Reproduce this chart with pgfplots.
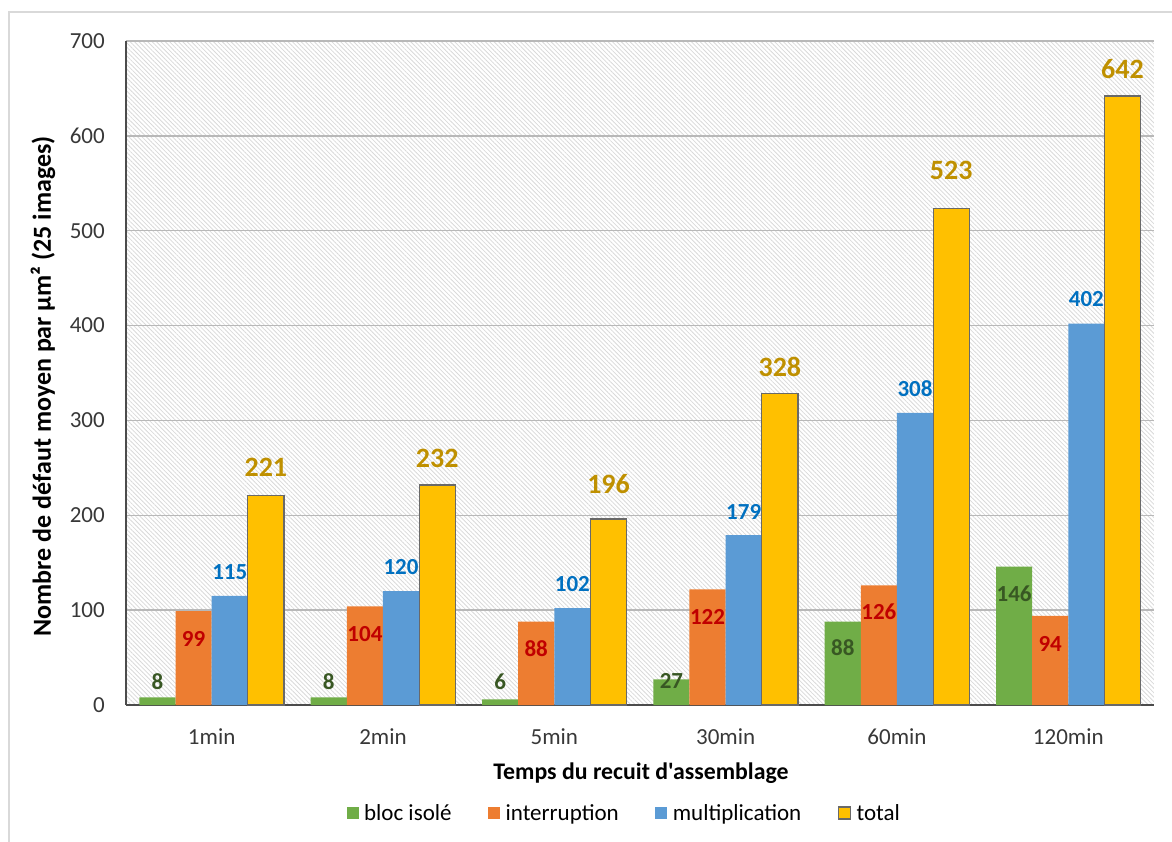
\documentclass[border=0pt]{standalone}
\usepackage{pgfplots}
\pgfplotsset{compat=1.18}
\usepackage{pgfplotstable}
\usetikzlibrary{patterns.meta}
\usepackage{fontspec}
\setmainfont{Carlito}[Ligatures=TeXOff]
\definecolor{cgreen}{RGB}{112,173,71}
\definecolor{corange}{RGB}{237,125,49}
\definecolor{cblue}{RGB}{91,155,213}
\definecolor{cgold}{RGB}{255,192,0}
\definecolor{lgreen}{RGB}{56,87,35}
\definecolor{lred}{RGB}{192,0,0}
\definecolor{lblue}{RGB}{0,112,192}
\definecolor{lgold}{RGB}{191,144,0}
\definecolor{outl}{RGB}{105,105,105}

\pgfplotstableread{
x y lab
-0.3165 25 8
0.6835 25 8
1.6835 25 6
2.6835 25 27
3.6835 60 88
4.6835 117 146
}\labgreen
\pgfplotstableread{
x y lab
-0.1055 70 99
0.8945 75 104
1.8945 59 88
2.8945 93 122
3.8945 98 126
4.8945 64 94
}\laborange
\pgfplotstableread{
x y lab
0.1055 140 115
1.1055 145 120
2.1055 128 102
3.1055 204 179
4.1055 334 308
5.1055 428 402
}\labblue
\pgfplotstableread{
x y lab
0.3165 251 221
1.3165 260 232
2.3165 233 196
3.3165 356 328
4.3165 564 523
5.3165 670 642
}\labtotal

\begin{document}
\begin{tikzpicture}
\useasboundingbox (-126pt,-136pt) rectangle (1046pt,705pt);
\draw[black!15, line width=1.5pt] (-117pt,693pt) rectangle (1070pt,-160pt);
\begin{axis}[
  at={(0pt,0pt)}, anchor=south west,
  scale only axis, width=1028pt, height=664pt,
  xmin=-0.5, xmax=5.5, ymin=0, ymax=700,
  xtick={0,...,5},
  xticklabels={1min,2min,5min,30min,60min,120min},
  ytick={0,100,...,700},
  major tick length=0pt,
  axis x line*=bottom, axis y line*=left,
  x axis line style={draw=black!70, line width=1.4pt, -},
  y axis line style={draw=black!70, line width=1.4pt, -},
  ymajorgrids,
  grid style={draw=black!28, line width=1.4pt},
  axis background/.style={pattern={Lines[angle=-45,distance=3.1pt,line width=0.8pt]}, pattern color=black!15},
  /pgf/number format/assume math mode=true,
  tick label style={font=\fontsize{23}{27}\selectfont, text=black!78},
  xticklabel style={anchor=center, yshift=-32pt, inner sep=0pt},
  yticklabel style={anchor=east, xshift=-21pt, inner sep=0pt},
  xlabel={Temps du recuit d'assemblage},
  ylabel={Nombre de défaut moyen par µm² (25 images)},
  every axis x label/.style={at={(axis description cs:0.501,0)}, yshift=-68pt, anchor=center, font=\fontsize{23.8}{27}\selectfont\bfseries},
  every axis y label/.style={at={(axis description cs:0,0.48)}, xshift=-83pt, rotate=90, anchor=center, font=\fontsize{26}{30}\selectfont\bfseries},
  legend style={at={(0.4864,-0.1627)}, anchor=center, draw=none, fill=none,
    legend columns=4, font=\fontsize{23}{27}\selectfont,
    /tikz/every even column/.append style={column sep=31pt},
    nodes={inner xsep=5.5pt}},
  legend image code/.code={\path[#1] (0pt,-6pt) rectangle (12pt,6pt);},
]
\addplot[ybar, bar width=0.211, bar shift=-0.3165, fill=cgreen, draw=none]
  coordinates {(0,8)(1,8)(2,6)(3,27)(4,88)(5,146)};
\addlegendentry{bloc isolé}
\addplot[ybar, bar width=0.211, bar shift=-0.1055, fill=corange, draw=none]
  coordinates {(0,99)(1,104)(2,88)(3,122)(4,126)(5,94)};
\addlegendentry{interruption}
\addplot[ybar, bar width=0.211, bar shift=0.1055, fill=cblue, draw=none]
  coordinates {(0,115)(1,120)(2,102)(3,179)(4,308)(5,402)};
\addlegendentry{multiplication}
\addplot[ybar, bar width=0.211, bar shift=0.3165, fill=cgold, draw=outl, line width=1.2pt]
  coordinates {(0,221)(1,232)(2,196)(3,328)(4,523)(5,642)};
\addlegendentry{total}

\addplot[draw=none, mark=none, forget plot, nodes near coords, point meta=explicit symbolic,
  nodes near coords align={center},
  every node near coord/.append style={anchor=center, inner sep=0pt, text=lgreen, font=\fontsize{23}{27}\selectfont\bfseries}]
  table[x=x, y=y, meta=lab] {\labgreen};
\addplot[draw=none, mark=none, forget plot, nodes near coords, point meta=explicit symbolic,
  nodes near coords align={center},
  every node near coord/.append style={anchor=center, inner sep=0pt, text=lred, font=\fontsize{23}{27}\selectfont\bfseries}]
  table[x=x, y=y, meta=lab] {\laborange};
\addplot[draw=none, mark=none, forget plot, nodes near coords, point meta=explicit symbolic,
  nodes near coords align={center},
  every node near coord/.append style={anchor=center, inner sep=0pt, text=lblue, font=\fontsize{23}{27}\selectfont\bfseries}]
  table[x=x, y=y, meta=lab] {\labblue};
\addplot[draw=none, mark=none, forget plot, nodes near coords, point meta=explicit symbolic,
  nodes near coords align={center},
  every node near coord/.append style={anchor=center, inner sep=0pt, text=lgold, font=\fontsize{28}{32}\selectfont\bfseries}]
  table[x=x, y=y, meta=lab] {\labtotal};
\end{axis}
\end{tikzpicture}
\end{document}
